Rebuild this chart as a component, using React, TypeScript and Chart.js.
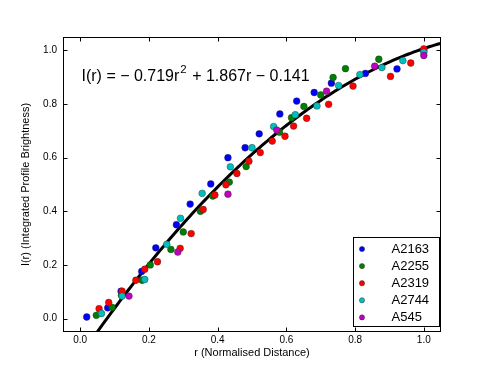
import React, { useEffect, useRef } from "react";
import { Chart, registerables } from "chart.js";

Chart.register(...registerables);

const seriesNames = ["A2163", "A2255", "A2319", "A2744", "A545"];
const seriesColors = ["#0000ff", "#008000", "#ff0000", "#00bfbf", "#bf00bf"];

const a2163X = [0.019, 0.08, 0.119, 0.179, 0.22, 0.28, 0.32, 0.38, 0.43, 0.48, 0.521, 0.581, 0.63, 0.681, 0.731, 0.83, 0.922, 1.0];
const a2163Y = [0.006, 0.04, 0.102, 0.176, 0.264, 0.35, 0.427, 0.502, 0.6, 0.637, 0.689, 0.763, 0.811, 0.843, 0.878, 0.914, 0.931, 1.0];

const a2255X = [0.047, 0.093, 0.12, 0.18, 0.204, 0.264, 0.3, 0.35, 0.386, 0.434, 0.483, 0.58, 0.615, 0.651, 0.7, 0.736, 0.772, 0.869];
const a2255Y = [0.012, 0.042, 0.087, 0.143, 0.2, 0.258, 0.323, 0.4, 0.457, 0.509, 0.567, 0.695, 0.749, 0.791, 0.834, 0.899, 0.932, 0.967];

const a2319X = [0.055, 0.083, 0.122, 0.162, 0.188, 0.225, 0.291, 0.323, 0.358, 0.392, 0.424, 0.456, 0.491, 0.524, 0.559, 0.596, 0.621, 0.659, 0.723, 0.794, 0.903, 0.962, 1.0];
const a2319Y = [0.037, 0.06, 0.102, 0.143, 0.184, 0.212, 0.262, 0.317, 0.407, 0.461, 0.499, 0.541, 0.587, 0.619, 0.662, 0.68, 0.718, 0.747, 0.799, 0.867, 0.903, 0.953, 1.006];

const a2744X = [0.062, 0.122, 0.188, 0.252, 0.292, 0.355, 0.437, 0.5, 0.563, 0.626, 0.689, 0.752, 0.814, 0.878, 0.939, 1.0];
const a2744Y = [0.019, 0.084, 0.146, 0.277, 0.374, 0.467, 0.566, 0.637, 0.716, 0.76, 0.793, 0.869, 0.91, 0.936, 0.962, 0.993];

const a545X = [0.142, 0.284, 0.43, 0.572, 0.717, 0.857, 1.0];
const a545Y = [0.084, 0.248, 0.464, 0.703, 0.848, 0.941, 0.981];

// fit: I(r) = a r^2 + b r + c
const fitCoeffs = [-0.719, 1.867, -0.141];
const fitRange = [0.0, 1.06];

const xTicks = [0.0, 0.2, 0.4, 0.6, 0.8, 1.0];
const yTicks = [0.0, 0.2, 0.4, 0.6, 0.8, 1.0];
const xTickLabels = ["0.0", "0.2", "0.4", "0.6", "0.8", "1.0"];
const yTickLabels = ["0.0", "0.2", "0.4", "0.6", "0.8", "1.0"];

const xTitle = "r (Normalised Distance)";
const yTitle = "I(r) (Integrated Profile Brightness)";

const FONT = "'Liberation Sans', Arial, Helvetica, sans-serif";

const seriesX = [a2163X, a2255X, a2319X, a2744X, a545X];
const seriesY = [a2163Y, a2255Y, a2319Y, a2744Y, a545Y];

function fitPoints() {
  const pts: { x: number; y: number }[] = [];
  const n = 120;
  for (let i = 0; i <= n; i++) {
    const r = fitRange[0] + ((fitRange[1] - fitRange[0]) * i) / n;
    pts.push({ x: r, y: fitCoeffs[0] * r * r + fitCoeffs[1] * r + fitCoeffs[2] });
  }
  return pts;
}

const decorPlugin = {
  id: "decor",
  afterDatasetsDraw(chart: any) {
    const { ctx, chartArea: a, scales } = chart;
    ctx.save();
    // frame
    ctx.strokeStyle = "#000";
    ctx.lineWidth = 1;
    const L = Math.round(a.left) + 0.5;
    const R = Math.round(a.right) - 0.5;
    const T = Math.round(a.top) + 0.5;
    const B = Math.round(a.bottom) - 0.5;
    ctx.strokeRect(L, T, R - L, B - T);
    // inward ticks
    const tl = 4;
    ctx.beginPath();
    xTicks.forEach((v) => {
      const px = Math.round(scales.x.getPixelForValue(v)) + 0.5;
      ctx.moveTo(px, B);
      ctx.lineTo(px, B - tl);
      ctx.moveTo(px, T);
      ctx.lineTo(px, T + tl);
    });
    yTicks.forEach((v) => {
      const py = Math.round(scales.y.getPixelForValue(v)) + 0.5;
      ctx.moveTo(L, py);
      ctx.lineTo(L + tl, py);
      ctx.moveTo(R, py);
      ctx.lineTo(R - tl, py);
    });
    ctx.stroke();

    // tick labels
    ctx.fillStyle = "#000";
    ctx.font = `10px ${FONT}`;
    ctx.textAlign = "center";
    ctx.textBaseline = "top";
    xTicks.forEach((v, i) => {
      ctx.fillText(xTickLabels[i], scales.x.getPixelForValue(v), B + 3.5);
    });
    ctx.textAlign = "right";
    ctx.textBaseline = "middle";
    yTicks.forEach((v, i) => {
      ctx.fillText(yTickLabels[i], L - 6.5, scales.y.getPixelForValue(v));
    });

    // equation text
    ctx.fillStyle = "#000";
    ctx.textBaseline = "alphabetic";
    ctx.textAlign = "left";
    const eqX = 81.5;
    const eqY = 81;
    ctx.font = `16px ${FONT}`;
    let x = eqX;
    const part1 = "I(r) = \u2212 0.719r";
    ctx.fillText(part1, x, eqY);
    x += ctx.measureText(part1).width + 1;
    ctx.font = `11.5px ${FONT}`;
    ctx.fillText("2", x, eqY - 8);
    x += ctx.measureText("2").width + 1;
    ctx.font = `16px ${FONT}`;
    ctx.fillText(" + 1.867r \u2212 0.141", x, eqY);

    // legend
    const lw = 86;
    const lh = 89;
    const lx = Math.round(a.right) - 2 - lw + 0.5;
    const ly = Math.round(a.bottom) - 6 - lh + 0.5;
    ctx.fillStyle = "#fff";
    ctx.fillRect(lx, ly, lw, lh);
    ctx.strokeStyle = "#000";
    ctx.lineWidth = 1;
    ctx.strokeRect(lx, ly, lw, lh);
    ctx.font = `13px ${FONT}`;
    ctx.textBaseline = "middle";
    seriesNames.forEach((name, i) => {
      const cy = ly + 11.5 + i * 17.1;
      ctx.beginPath();
      ctx.arc(lx + 8.5, cy, 2.6, 0, Math.PI * 2);
      ctx.fillStyle = seriesColors[i];
      ctx.fill();
      ctx.lineWidth = 0.5;
      ctx.strokeStyle = "#333";
      ctx.stroke();
      ctx.fillStyle = "#000";
      ctx.fillText(name, lx + 38, cy + 0.5);
    });
    ctx.restore();
  },
};

export default function App() {
  const canvasRef = useRef<HTMLCanvasElement | null>(null);

  useEffect(() => {
    if (!canvasRef.current) return;
    Chart.defaults.font.family = FONT;
    const datasets: any[] = seriesNames.map((name, i) => ({
      type: "scatter",
      label: name,
      data: seriesX[i].map((x, j) => ({ x, y: seriesY[i][j] })),
      backgroundColor: seriesColors[i],
      borderColor: "rgba(40,40,40,0.8)",
      borderWidth: 0.5,
      pointRadius: 3.4,
      pointHoverRadius: 3.4,
      order: 5 - i,
    }));
    datasets.push({
      type: "line",
      label: "fit",
      data: fitPoints(),
      borderColor: "#000",
      borderWidth: 3,
      pointRadius: 0,
      showLine: true,
      tension: 0,
      fill: false,
      clip: 0,
      order: 10,
    });

    const chart = new Chart(canvasRef.current, {
      type: "scatter",
      data: { datasets },
      options: {
        animation: false,
        responsive: false,
        devicePixelRatio: 1,
        layout: { padding: { left: 0, right: 50, top: 37, bottom: 0 } },
        plugins: {
          legend: { display: false },
          tooltip: { enabled: false },
        },
        scales: {
          x: {
            type: "linear",
            min: -0.05,
            max: 1.05,
            grid: { display: false },
            border: { display: false },
            afterBuildTicks: (s: any) => {
              s.ticks = xTicks.map((v) => ({ value: v }));
            },
            afterFit: (s: any) => {
              s.height = 39;
            },
            ticks: { display: false },
            title: {
              display: true,
              text: xTitle,
              color: "#000",
              font: { size: 11, family: FONT },
              padding: { top: 0, bottom: 11.9 },
            },
          },
          y: {
            type: "linear",
            min: -0.05,
            max: 1.05,
            grid: { display: false },
            border: { display: false },
            afterBuildTicks: (s: any) => {
              s.ticks = yTicks.map((v) => ({ value: v }));
            },
            afterFit: (s: any) => {
              s.width = 63;
            },
            ticks: { display: false },
            title: {
              display: true,
              text: yTitle,
              color: "#000",
              font: { size: 11, family: FONT },
              padding: { top: 19.4, bottom: 0 },
            },
          },
        },
      },
      plugins: [decorPlugin],
    } as any);
    return () => chart.destroy();
  }, []);

  return (
    <div style={{ position: "fixed", left: 0, top: 0, width: 491, height: 371, background: "#fff" }}>
      <canvas ref={canvasRef} width={491} height={371} style={{ width: 491, height: 371, display: "block" }} />
    </div>
  );
}
